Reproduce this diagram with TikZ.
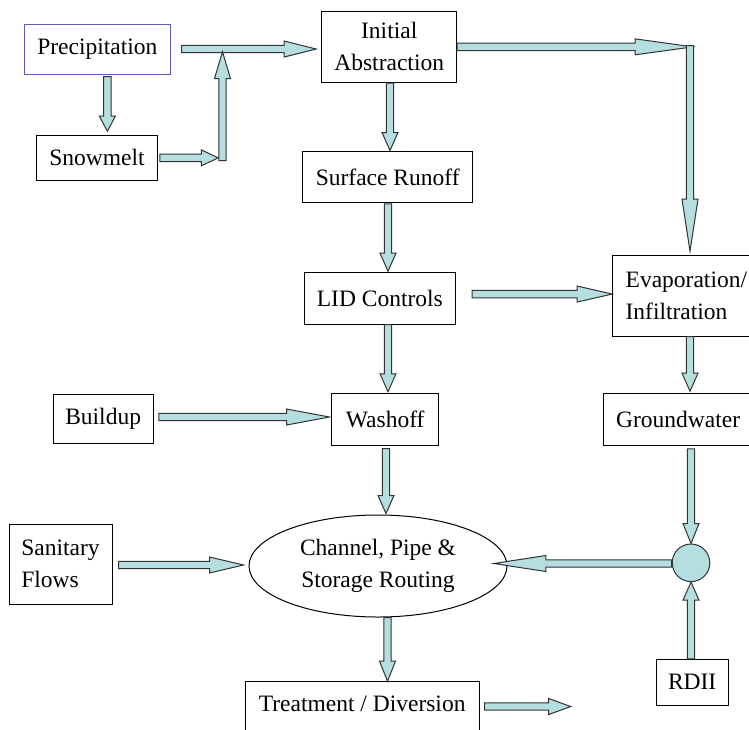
\documentclass[tikz,border=0pt]{standalone}
\usepackage{fontspec}
\setmainfont{LiberationSerif}[Extension=.ttf,UprightFont=*-Regular,BoldFont=*-Bold,ItalicFont=*-Italic]
\usetikzlibrary{calc,shapes.geometric}
\definecolor{afill}{HTML}{B4DEE0}
\definecolor{aline}{HTML}{333333}
\definecolor{pblue}{HTML}{5B5BC0}
\newcommand\ashaft{3.7pt}
\newcommand\ahead{8pt}
% block arrows: #1 start, #2 tip, #3 head length
\newcommand\arR[3]{\draw[barrow] let \p1=(#1),\p2=(#2) in (\x1,\y1+\ashaft) -- (\x2-#3,\y1+\ashaft) -- (\x2-#3,\y1+\ahead) -- (\x2,\y1) -- (\x2-#3,\y1-\ahead) -- (\x2-#3,\y1-\ashaft) -- (\x1,\y1-\ashaft) -- cycle;}
\newcommand\arL[3]{\draw[barrow] let \p1=(#1),\p2=(#2) in (\x1,\y1+\ashaft) -- (\x2+#3,\y1+\ashaft) -- (\x2+#3,\y1+\ahead) -- (\x2,\y1) -- (\x2+#3,\y1-\ahead) -- (\x2+#3,\y1-\ashaft) -- (\x1,\y1-\ashaft) -- cycle;}
\newcommand\arD[3]{\draw[barrow] let \p1=(#1),\p2=(#2) in (\x1-\ashaft,\y1) -- (\x1-\ashaft,\y2+#3) -- (\x1-\ahead,\y2+#3) -- (\x1,\y2) -- (\x1+\ahead,\y2+#3) -- (\x1+\ashaft,\y2+#3) -- (\x1+\ashaft,\y1) -- cycle;}
\newcommand\arU[3]{\draw[barrow] let \p1=(#1),\p2=(#2) in (\x1-\ashaft,\y1) -- (\x1-\ashaft,\y2-#3) -- (\x1-\ahead,\y2-#3) -- (\x1,\y2) -- (\x1+\ahead,\y2-#3) -- (\x1+\ashaft,\y2-#3) -- (\x1+\ashaft,\y1) -- cycle;}
\begin{document}
\begin{tikzpicture}[x=1pt,y=1pt,
  font=\fontsize{23.5}{32}\selectfont,
  box/.style={draw=black,line width=1pt,fill=white,inner sep=0pt,align=center},
  barrow/.style={draw=aline,line width=1pt,fill=afill,line join=miter}]
\path[use as bounding box,clip] (0,0) rectangle (749,-729);
\fill[white] (0,0) rectangle (749,-729);
% nodes
\node[box,draw=pblue,minimum width=146.7pt,minimum height=50pt] (prec) at (97.35,-49) {Precipitation};
\node[box,minimum width=120.6pt,minimum height=45.7pt] (snow) at (97,-157.85) {Snowmelt};
\node[box,minimum width=135pt,minimum height=71.7pt] (ia) at (389.2,-46.85) {Initial\\Abstraction};
\node[box,minimum width=170pt,minimum height=51.7pt] (sr) at (387.7,-176.85) {Surface Runoff};
\node[box,minimum width=151.7pt,minimum height=51.3pt] (lid) at (379.85,-298.35) {LID Controls};
\node[box,align=left,minimum width=147.3pt,minimum height=81pt] (evap) at (686.35,-295.5) {Evaporation/\\Infiltration};
\node[box,minimum width=100.3pt,minimum height=49pt] (build) at (103.15,-418.5) {Buildup};
\node[box,minimum width=107pt,minimum height=51.7pt] (wash) at (385.2,-419.15) {Washoff};
\node[box,minimum width=149.7pt,minimum height=51.7pt] (gw) at (678.15,-419.15) {Groundwater};
\node[box,align=left,minimum width=103pt,minimum height=80pt] (san) at (60.5,-564) {Sanitary\\Flows};
\node[box,ellipse,minimum width=258pt,minimum height=102pt] (ell) at (378,-566) {Channel, Pipe \&\\Storage Routing};
\node[draw=aline,line width=1pt,fill=afill,circle,inner sep=0pt,minimum size=37.6pt] (circ) at (691,-562.8) {};
\node[box,minimum width=72.3pt,minimum height=45.7pt] (rdii) at (692.15,-682.15) {RDII};
\node[box,minimum width=234.3pt,minimum height=58pt,text height=16pt,text depth=14pt] (treat) at (362.15,-710.7) {Treatment / Diversion};
% junction coordinates
\coordinate (jlow) at (222.5,-160.7);
\coordinate (jtop) at (222.5,-51.7);
\coordinate (jr) at (693,-46.85);
\coordinate (jrd) at (690,-45.5);
\coordinate (tend) at (570.7,-706.5);
% arrows
\arR{[xshift=10.5pt]prec.east}{[xshift=-5pt]ia.west}{32pt}
\arD{[xshift=10pt,yshift=-2pt]prec.south}{[yshift=3.3pt]snow.north}{15pt}
\arR{[xshift=2pt]snow.east}{[xshift=-4.2pt]jlow}{17pt}
\arU{jlow}{jtop}{27pt}
\arR{ia.east}{jr}{58pt}
\arD{jrd}{[yshift=3.3pt]evap.north}{52pt}
\arD{[xshift=0.8pt]ia.south}{sr.north}{18pt}
\arD{[xshift=0.3pt,yshift=-0.6pt]sr.south}{[yshift=1pt]lid.north}{18pt}
\arR{[xshift=16pt,yshift=4.3pt]lid.east}{evap.west}{35pt}
\arD{[xshift=8.15pt]lid.south}{[yshift=1pt]wash.north}{18pt}
\arR{[xshift=5pt,yshift=1.5pt]build.east}{[xshift=-1.7pt]wash.west}{43pt}
\arD{[xshift=0.8pt,yshift=-3pt]wash.south}{[yshift=1pt]ell.north}{18pt}
\arD{[xshift=3.65pt]evap.south}{[yshift=1.6pt]gw.north}{18pt}
\arD{[xshift=12.85pt,yshift=-3.3pt]gw.south}{circ.north}{20pt}
\arU{[xshift=-1.15pt]rdii.north}{circ.south}{18pt}
\arL{[yshift=-0.7pt]circ.west}{[xshift=-13.7pt]ell.east}{52pt}
\arR{[xshift=6pt,yshift=-1pt]san.east}{[xshift=-5pt]ell.west}{34pt}
\arD{[xshift=9.5pt]ell.south}{treat.north}{20pt}
\arR{[xshift=4.7pt,yshift=4.2pt]treat.east}{tend}{22pt}
\end{tikzpicture}
\end{document}
